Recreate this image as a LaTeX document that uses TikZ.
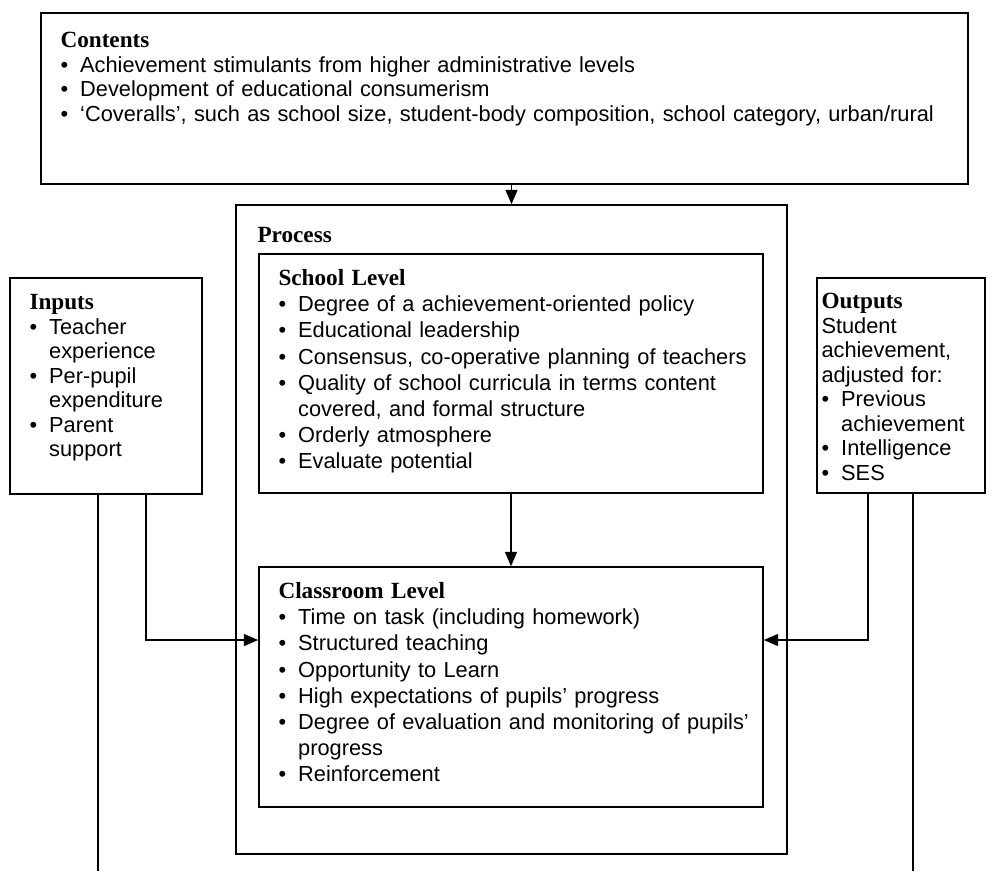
\documentclass[tikz,border=0pt]{standalone}
\usepackage{fontspec}
\setmainfont{Liberation Sans}
\newfontfamily\hdfont{Liberation Serif}
\usetikzlibrary{arrows.meta,positioning,calc,fit}
\newlength{\bulind}
\setlength{\bulind}{14pt}
\newcommand{\bodysize}{\fontsize{15.5pt}{17.4pt}\selectfont}
\newcommand{\widesize}{\fontsize{15.5pt}{18.6pt}\selectfont}
\newcommand{\hd}[1]{\noindent{\hdfont\bfseries\fontsize{16.5pt}{17pt}\selectfont #1}\par}
\newcommand{\itm}[1]{\par\noindent\hangindent=\bulind\hangafter=1\makebox[\bulind][l]{\textbullet}#1\par}
\tikzset{
  frame/.style ={rectangle, draw=black, line width=1.1pt, inner sep=0pt},
  txt/.style   ={anchor=north west, inner sep=0pt, align=left, font=\bodysize},
  ar/.style    ={-{Triangle[length=3.6mm,width=3mm]}, line width=1.1pt},
  ln/.style    ={line width=1.1pt}
}
\begin{document}
\begin{tikzpicture}[x=0.025cm, y=-0.025cm]
\useasboundingbox (0,0) rectangle (994,871);
% boxes
\node[frame, fit={(41,13) (968,184)}] (contents) {};
\node[frame, fit={(236,205) (787,854)}] (process) {};
\node[frame, fit={(259,254) (763,493)}] (school) {};
\node[frame, fit={(259,567) (763,807)}] (class) {};
\node[frame, fit={(10,278) (202,494)}] (inputs) {};
\node[frame, fit={(817,278) (985,493)}] (outputs) {};
% texts
\node[txt, text width=22.5cm] (contentsTxt) at ($(contents.north west)+(20,20)$)
  {\hd{Contents}
   \itm{Achievement stimulants from higher administrative levels}
   \itm{Development of educational consumerism}
   \itm{`Coveralls', such as school size, student-body composition, school category, urban/rural}};
\node[txt, text width=12cm] (processTxt) at ($(process.north west)+(22,23)$)
  {\hd{Process}};
\node[txt, font=\widesize, text width=12cm] (schoolTxt) at ($(school.north west)+(20,16)$)
  {\hd{School Level}
   \itm{Degree of a achievement-oriented policy}
   \itm{Educational leadership}
   \itm{Consensus, co-operative planning of teachers}
   \itm{Quality of school curricula in terms content\newline covered, and formal structure}
   \itm{Orderly atmosphere}
   \itm{Evaluate potential}};
\node[txt, font=\widesize, text width=12cm] (classTxt) at ($(class.north west)+(20,16)$)
  {\hd{Classroom Level}
   \itm{Time on task (including homework)}
   \itm{Structured teaching}
   \itm{Opportunity to Learn}
   \itm{High expectations of pupils' progress}
   \itm{Degree of evaluation and monitoring of pupils'\newline progress}
   \itm{Reinforcement}};
\node[txt, text width=4.4cm] (inputsTxt) at ($(inputs.north west)+(20,17)$)
  {\hd{Inputs}
   \itm{Teacher\newline experience}
   \itm{Per-pupil\newline expenditure}
   \itm{Parent\newline support}};
\node[txt, text width=4cm] (outputsTxt) at ($(outputs.north west)+(5,16)$)
  {\hd{Outputs}
   \noindent Student\newline achievement,\newline adjusted for:
   \itm{Previous\newline achievement}
   \itm{Intelligence}
   \itm{SES}};
% connectors
\draw[ar] (contents.south -| process.north) -- (process.north);
\draw[ar] (school.south) -- (class.north);
\coordinate (inEnd) at (98,871);
\coordinate (outEnd) at (913,871);
\draw[ln] (inputs.south -| inEnd) -- (inEnd);
\draw[ln] (outputs.south -| outEnd) -- (outEnd);
\draw[ar] ($(inputs.south)+(40,0)$) |- ($(class.west)+(0,-47)$);
\draw[ar] ($(outputs.south)+(-33,0)$) |- ($(class.east)+(0,-47)$);
\end{tikzpicture}
\end{document}
